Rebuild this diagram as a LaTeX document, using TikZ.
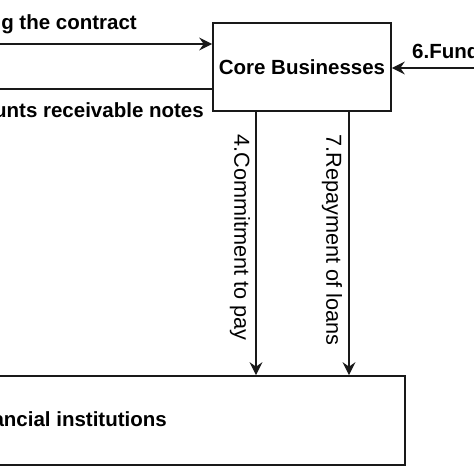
\documentclass[tikz,border=0pt]{standalone}
\usepackage{fontspec}
\setmainfont{Liberation Sans}
\usetikzlibrary{arrows.meta}
\begin{document}
\begin{tikzpicture}[x=1pt,y=1pt,
  box/.style={draw=black!90,line width=1.7pt,fill=white,inner sep=0pt},
  conn/.style={draw=black!90,line width=1.4pt},
  arr/.style={conn,-{Stealth[length=13pt,width=13pt,inset=4.5pt]}},
  blab/.style={font=\fontsize{20.5}{24}\selectfont\bfseries,inner sep=0pt},
  rlab/.style={font=\fontsize{21.7}{25}\selectfont,inner sep=0pt,rotate=-90}]
\useasboundingbox (0,0) rectangle (474,474);
\fill[white] (0,0) rectangle (474,474);
\clip (0,0) rectangle (474,474);
% boxes
\node[box,minimum width=178pt,minimum height=88pt,blab] (core) at (302,407) {Core Businesses};
\node[box,minimum width=605pt,minimum height=89pt] (fin) at (102.5,53.5) {};
\node[blab,anchor=base east] (finlab) at (167,47) {ancial institutions};
% outside coordinates
\coordinate (l1) at (-20,430);
\coordinate (l2) at (-20,385);
\coordinate (r6) at (500,406);
% left connectors
\draw[arr] (l1) -- (core.west |- l1);
\node[blab,anchor=base east] (lab1) at (137,444) {g the contract};
\draw[arr] (core.west |- l2) -- (l2);
\node[blab,anchor=base east] (lab2) at (204,356) {unts receivable notes};
% right connector
\draw[arr] (r6) -- (core.east |- r6);
\node[blab,anchor=base west] (lab6) at (412,415) {6.Fund};
% vertical connectors
\draw[arr] (core.south -| 256,0) -- (fin.north -| 256,0);
\draw[arr] (core.south -| 349,0) -- (fin.north -| 349,0);
\node[rlab] (lab4) at (240,236.5) {4.Commitment to pay};
\node[rlab] (lab7) at (332,234) {7.Repayment of loans};
\end{tikzpicture}
\end{document}
